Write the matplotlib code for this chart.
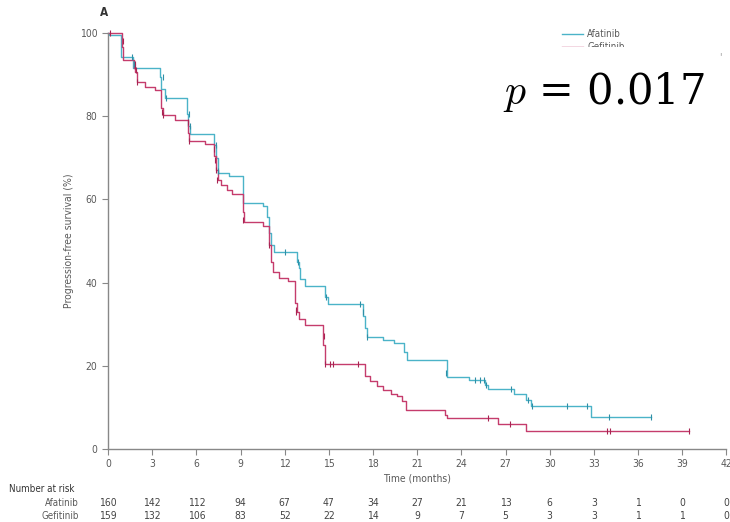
import matplotlib
matplotlib.use("Agg")
import matplotlib.pyplot as plt
from matplotlib.patches import Rectangle
from matplotlib.transforms import blended_transform_factory

plt.rcParams["font.family"] = ["DejaVu Sans"]
plt.rcParams["font.stretch"] = "condensed"
plt.rcParams["mathtext.fontset"] = "cm"

# Kaplan-Meier step data (time in months, PFS in %)
afa_t = [0, 0.05, 0.9, 1.7, 3.5, 3.6, 3.85, 5.35, 5.45, 5.55,
         7.2, 7.3, 7.45, 8.2, 9.2, 10.5, 10.8, 10.95, 11.05, 11.3,
         12.85, 12.95, 13.05, 13.4, 14.75, 14.95, 17.3, 17.45, 17.6, 18.65,
         19.4, 20.1, 20.3, 23.0, 24.5, 25.6, 25.8, 27.55, 28.4, 28.7,
         32.8, 36.85]
afa_s = [100, 99.4, 94.2, 91.6, 89.5, 86.5, 84.3, 80.5, 77.5, 75.7,
         73.0, 70.0, 66.3, 65.5, 59.1, 58.3, 55.8, 52.0, 49.0, 47.4,
         45.0, 43.5, 40.8, 39.2, 36.5, 34.8, 32.0, 29.0, 27.0, 26.2,
         25.4, 23.4, 21.4, 17.4, 16.6, 15.4, 14.3, 13.2, 11.8, 10.3,
         7.6, 7.6]

gef_t = [0, 0.95, 1.05, 1.75, 1.85, 1.95, 2.5, 3.2, 3.6, 3.7,
         4.55, 5.4, 5.5, 6.6, 7.2, 7.35, 7.5, 7.65, 8.05, 8.4,
         9.15, 9.25, 10.5, 10.9, 11.05, 11.2, 11.6, 12.25, 12.7, 12.85,
         13.0, 13.35, 14.6, 14.75, 17.45, 17.8, 18.3, 18.7, 19.2, 19.6,
         20.0, 20.25, 22.9, 23.0, 26.5, 28.4, 39.45]
gef_s = [100, 96.5, 93.5, 91.5, 90.5, 88.1, 86.9, 86.3, 82.0, 80.3,
         79.1, 76.0, 73.9, 73.3, 70.5, 67.0, 64.7, 63.4, 62.3, 61.3,
         57.0, 54.6, 53.5, 49.0, 45.0, 42.6, 41.0, 40.4, 35.0, 33.0,
         31.3, 29.7, 25.0, 20.3, 17.6, 16.3, 15.2, 14.2, 13.3, 12.6,
         11.4, 9.4, 8.2, 7.4, 5.9, 4.4, 4.4]

# censored observations
afa_cens_t = [1.6, 1.75, 3.7, 3.95, 5.5, 5.6, 7.3, 7.5, 12.0, 12.9, 14.8, 17.1, 17.3,
              17.6, 22.95, 24.9, 25.3, 25.55, 25.7, 27.4, 28.5, 28.8, 31.2, 32.55, 34.0, 36.85]
afa_cens_s = [94.2, 92.5, 89.5, 84.3, 80.5, 77.5, 73.0, 66.8, 47.4, 45.0, 36.5, 34.8, 33.0,
              27.0, 18.3, 16.6, 16.6, 16.6, 15.4, 14.3, 11.8, 10.3, 10.3, 10.3, 7.6, 7.6]
gef_cens_t = [0.15, 1.0, 1.8, 1.85, 1.9, 2.0, 3.65, 3.7, 5.4, 5.5, 7.2, 7.25, 7.3, 7.4,
              9.2, 10.95, 12.75, 12.8, 14.65, 14.75, 15.05, 15.3, 16.95, 25.8, 27.3,
              33.9, 34.1, 39.45]
gef_cens_s = [100, 98.0, 92.5, 92.0, 91.0, 88.1, 81.0, 80.3, 78.7, 73.9, 72.0, 69.5, 67.0,
              64.7, 55.0, 48.9, 33.4, 33.0, 27.2, 20.3, 20.3, 20.3, 20.3, 7.4, 5.9,
              4.4, 4.4, 4.4]

risk_times = [0, 3, 6, 9, 12, 15, 18, 21, 24, 27, 30, 33, 36, 39, 42]
afa_risk = [160, 142, 112, 94, 67, 47, 34, 27, 21, 13, 6, 3, 1, 0, 0]
gef_risk = [159, 132, 106, 83, 52, 22, 14, 9, 7, 5, 3, 3, 1, 1, 0]

afa_col = "#4bb3c8"
gef_col = "#c53c6c"
grey = "#5a5a5a"

fig = plt.figure(figsize=(7.3, 5.22), dpi=100)
ax = fig.add_axes([0.148, 0.140, 0.847, 0.797])

ax.step(afa_t, afa_s, where="post", color=afa_col, lw=1.0, label="Afatinib", clip_on=False)
ax.step(gef_t, gef_s, where="post", color=gef_col, lw=1.0, label="Gefitinib", clip_on=False)
ax.plot(afa_cens_t, afa_cens_s, ls="none", marker="|", ms=5, mew=0.8, color="#2f8fa6", clip_on=False)
ax.plot(gef_cens_t, gef_cens_s, ls="none", marker="|", ms=5, mew=0.8, color="#a82452", clip_on=False)

ax.set_xlim(0, 42)
ax.set_ylim(0, 100)
ax.set_xticks(range(0, 43, 3))
ax.set_yticks(range(0, 101, 20))
for s in ["top", "right"]:
    ax.spines[s].set_visible(False)
for s in ["left", "bottom"]:
    ax.spines[s].set_color("#888888")
    ax.spines[s].set_linewidth(1.0)
ax.tick_params(colors="#888888", labelcolor=grey, labelsize=7.5, length=4, width=0.8)
ax.set_xlabel("Time (months)", fontsize=7.5, color=grey, labelpad=3)
ax.set_ylabel("Progression-free survival (%)", fontsize=7.5, color=grey, labelpad=4)

leg = ax.legend(loc="upper left", bbox_to_anchor=(0.72, 1.03), frameon=False,
                fontsize=7, handlelength=2.2, labelspacing=0.3, handletextpad=0.4)
for t in leg.get_texts():
    t.set_color(grey)

fig.text(0.137, 0.977, "A", fontsize=8.5, fontweight="bold", color="#333333", va="center")

# p-value label on a white panel laid over the lower legend entry
fig.add_artist(Rectangle((0.678, 0.761), 0.301, 0.149, transform=fig.transFigure,
                         facecolor="white", edgecolor="none", zorder=5))
fig.text(0.689, 0.801, r"$p$ = 0.017", fontsize=30, color="black", va="baseline",
         ha="left", family="DejaVu Serif", fontstretch="normal", zorder=6)
fig.text(0.985, 0.885, "'", fontsize=7, color="#999999")

# number at risk table
tr = blended_transform_factory(ax.transData, fig.transFigure)
fig.text(0.013, 0.063, "Number at risk", fontsize=7, color="#333333", va="center")
fig.text(0.108, 0.036, "Afatinib", fontsize=7, color=grey, va="center", ha="right")
fig.text(0.108, 0.011, "Gefitinib", fontsize=7, color=grey, va="center", ha="right")
for x, a, g in zip(risk_times, afa_risk, gef_risk):
    ax.text(x, 0.036, str(a), transform=tr, fontsize=7.5, color="#444444",
            ha="center", va="center", clip_on=False)
    ax.text(x, 0.011, str(g), transform=tr, fontsize=7.5, color="#444444",
            ha="center", va="center", clip_on=False)

fig.savefig("out.png", dpi=100)
